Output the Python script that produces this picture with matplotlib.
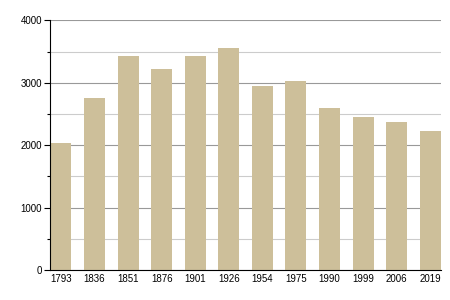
import matplotlib
matplotlib.use('Agg')
import matplotlib.pyplot as plt
from matplotlib.ticker import MultipleLocator

years = ['1793', '1836', '1851', '1876', '1901', '1926', '1954', '1975', '1990', '1999', '2006', '2019']
population = [2030, 2756, 3429, 3221, 3429, 3558, 2949, 3029, 2596, 2452, 2372, 2228]

plt.rcParams['font.family'] = ['Liberation Sans', 'DejaVu Sans']
plt.rcParams['font.size'] = 7

fig = plt.figure(figsize=(4.5, 3), dpi=100)
ax = fig.add_axes([0.1122, 0.1, 0.9793 - 0.1122, 0.9317 - 0.1])

w = 0.625
x = list(range(len(years)))
ax.bar(x, population, width=w, color='#cdbf9a', zorder=2)

ax.set_xlim(-w / 2, len(years) - 1 + w / 2)
ax.set_ylim(0, 4000)
ax.set_xticks(x)
ax.set_xticklabels(years)
ax.yaxis.set_major_locator(MultipleLocator(1000))
ax.yaxis.set_minor_locator(MultipleLocator(500))

ax.grid(axis='y', which='major', color='#999999', linewidth=0.8, zorder=0)
ax.grid(axis='y', which='minor', color='#cccccc', linewidth=0.8, zorder=0)

ax.tick_params(axis='x', length=0, pad=3)
ax.tick_params(axis='y', which='major', length=4, width=0.8, pad=2)
ax.tick_params(axis='y', which='minor', length=2, width=0.8)

for s in ['top', 'right']:
    ax.spines[s].set_visible(False)
ax.spines['left'].set_linewidth(0.8)
ax.spines['bottom'].set_linewidth(0.8)

fig.savefig('out.png', dpi=100)
